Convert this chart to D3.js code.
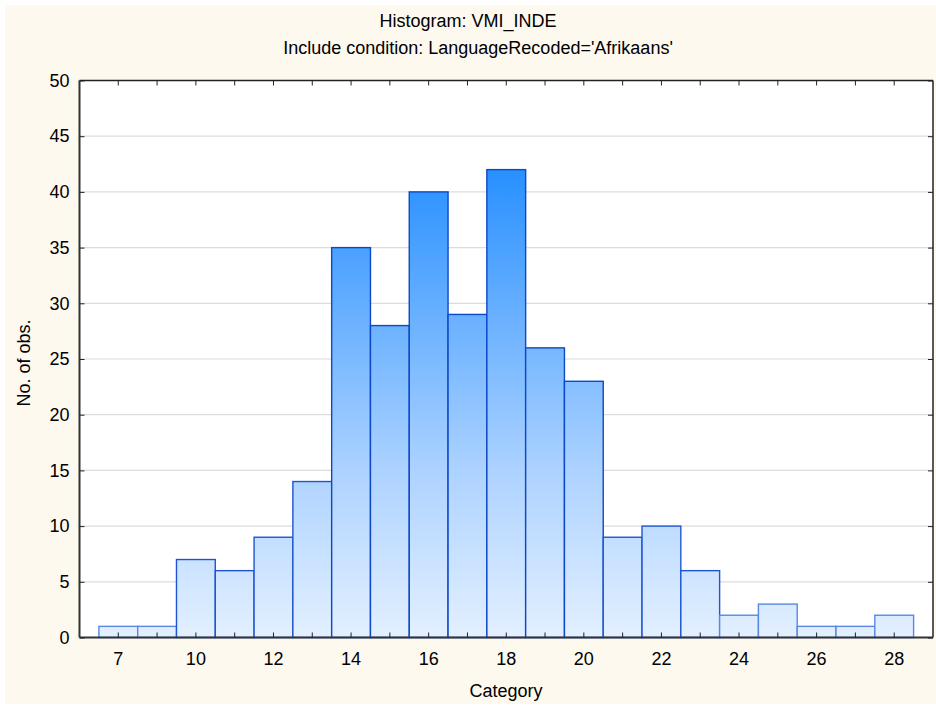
<!DOCTYPE html>
<html><head><meta charset="utf-8">
<script src="https://cdn.jsdelivr.net/npm/d3@7"></script>
<style>body{margin:0;background:#fff}svg{display:block}text{font-family:"Liberation Sans",Arial,sans-serif;fill:#000}</style>
</head><body>
<svg id="c" width="936" height="706"></svg>
<script>
const title = "Histogram: VMI_INDE";
const subtitle = "Include condition: LanguageRecoded='Afrikaans'";
const xLabel = "Category";
const yLabel = "No. of obs.";
const categories = ["7","8","10","11","12","13","14","15","16","17","18","19","20","21","22","23","24","25","26","27","28"];
const counts = [1,1,7,6,9,14,35,28,40,29,42,26,23,9,10,6,2,3,1,1,2];
const shownTicks = ["7","10","12","14","16","18","20","22","24","26","28"];
const yTicks = [0,5,10,15,20,25,30,35,40,45,50];

const svg = d3.select("#c");
const W = 936, H = 706;
const L = 79.5, R = 933, T = 80.5, B = 637.5;

svg.append("rect").attr("x",5).attr("y",5).attr("width",W-5).attr("height",699).attr("fill","#fdf9ef");
svg.append("rect").attr("x",L).attr("y",T).attr("width",R-L).attr("height",B-T).attr("fill","#fff");

const x = d3.scaleBand().domain(categories).range([L,R]).paddingInner(0).paddingOuter(0.5);
const y = d3.scaleLinear().domain([0,50]).range([B,T]);

const defs = svg.append("defs");
const g = defs.append("linearGradient").attr("id","bg").attr("gradientUnits","userSpaceOnUse")
  .attr("x1",0).attr("x2",0).attr("y1",y(0)).attr("y2",y(42));
g.append("stop").attr("offset","0%").attr("stop-color","#e3f0ff");
g.append("stop").attr("offset","35%").attr("stop-color","#aed3ff");
g.append("stop").attr("offset","100%").attr("stop-color","#2890ff");

// gridlines
svg.append("g").selectAll("line").data(yTicks.filter(v=>v>0&&v<50)).join("line")
  .attr("x1",L).attr("x2",R).attr("y1",d=>y(d)).attr("y2",d=>y(d))
  .attr("stroke","#dcdcdc").attr("stroke-width",1.2);

// bars
svg.append("g").selectAll("rect").data(counts).join("rect")
  .attr("x",(d,i)=>x(categories[i]))
  .attr("y",d=>y(d))
  .attr("width",x.bandwidth())
  .attr("height",d=>y(0)-y(d))
  .attr("fill","url(#bg)")
  .attr("stroke",d=>d>=20?"#0d48c8":(d>=5?"#1f55d0":"#5a88e0"))
  .attr("stroke-width",1.4);

// frame
svg.append("line").attr("x1",L).attr("x2",R).attr("y1",T).attr("y2",T).attr("stroke","#222").attr("stroke-width",1.5);
svg.append("line").attr("x1",R).attr("x2",R).attr("y1",T).attr("y2",B).attr("stroke","#222").attr("stroke-width",1.5);

// bottom axis
const xAxis = d3.axisBottom(x).tickSizeInner(-5).tickSizeOuter(0).tickPadding(15)
  .tickFormat(d=>shownTicks.includes(d)?d:"");
const gx = svg.append("g").attr("transform",`translate(0,${B})`).call(xAxis);
gx.select(".domain").attr("stroke","#333").attr("stroke-width",2).attr("d",`M${L},0H${R}`);
gx.selectAll(".tick line").attr("stroke","#222");
gx.selectAll("text").attr("font-size",18).attr("dy","0.71em");

// top ticks
const xTop = d3.axisTop(x).tickSizeInner(-5).tickSizeOuter(0).tickFormat("");
const gt = svg.append("g").attr("transform",`translate(0,${T})`).call(xTop);
gt.select(".domain").remove();
gt.selectAll(".tick line").attr("stroke","#222");

// left axis
const yAxis = d3.axisLeft(y).tickValues(yTicks).tickSizeInner(-5).tickSizeOuter(0).tickPadding(10);
const gy = svg.append("g").attr("transform",`translate(${L},0)`).call(yAxis);
gy.select(".domain").attr("stroke","#333").attr("stroke-width",2).attr("d",`M0,${T}V${B}`);
gy.selectAll(".tick line").attr("stroke","#222");
gy.selectAll("text").attr("font-size",18);

// right ticks
const yR = d3.axisRight(y).tickValues(yTicks).tickSizeInner(-5).tickSizeOuter(0).tickFormat("");
const gr = svg.append("g").attr("transform",`translate(${R},0)`).call(yR);
gr.select(".domain").remove();
gr.selectAll(".tick line").attr("stroke","#222");

// titles
svg.append("text").attr("x",468).attr("y",27).attr("text-anchor","middle").attr("font-size",18).text(title);
svg.append("text").attr("x",478).attr("y",54).attr("text-anchor","middle").attr("font-size",18).text(subtitle);
svg.append("text").attr("x",506).attr("y",697).attr("text-anchor","middle").attr("font-size",18).text(xLabel);
svg.append("text").attr("transform",`translate(30,${363}) rotate(-90)`).attr("text-anchor","middle").attr("font-size",18).text(yLabel);
</script>
</body></html>
